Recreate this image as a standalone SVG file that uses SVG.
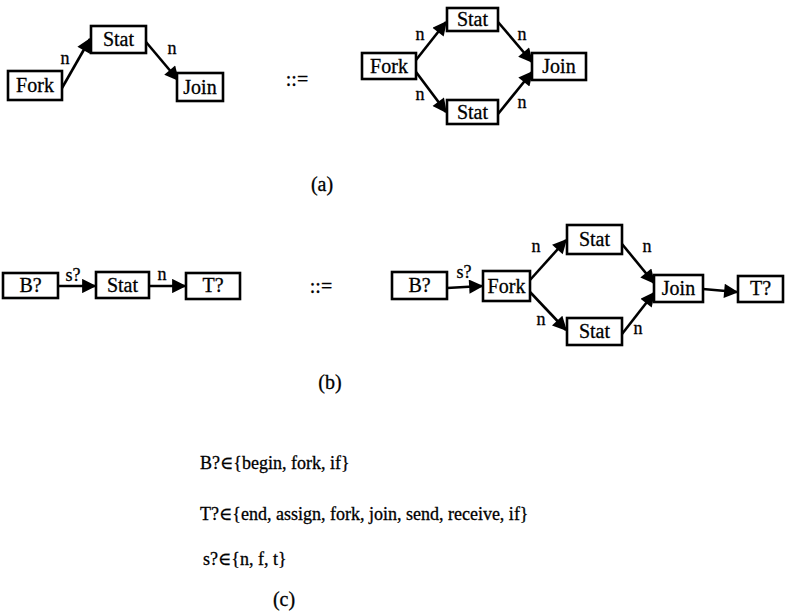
<svg xmlns="http://www.w3.org/2000/svg" width="787" height="612" viewBox="0 0 787 612">
<style>
.box{fill:#fff;stroke:#000;stroke-width:2.6}
text{font-family:'Liberation Serif','Tinos','DejaVu Serif',serif;fill:#000;stroke:#000;stroke-width:0.3}
.lbl{font-size:20px;text-anchor:middle}
.el{font-size:18px;text-anchor:middle}
.tx{font-size:18px}
.cap{font-size:20px;text-anchor:middle}
.e{stroke:#000;stroke-width:2.6;fill:none;marker-end:url(#ah)}
</style>
<defs>
<marker id="ah" viewBox="0 0 10 10" refX="9" refY="5" markerWidth="6" markerHeight="5.5" orient="auto" markerUnits="strokeWidth">
<path d="M0,0 L10,5 L0,10 z" fill="#000"/>
</marker>
</defs>
<rect width="787" height="612" fill="#fff"/>

<g id="connectors">
<line class="e" x1="62" y1="88" x2="90" y2="39"/>
<line class="e" x1="146" y1="42" x2="178" y2="80"/>
<line class="e" x1="416" y1="60" x2="446" y2="22"/>
<line class="e" x1="416" y1="72" x2="446" y2="112"/>
<line class="e" x1="498" y1="22" x2="532" y2="62"/>
<line class="e" x1="498" y1="114" x2="532" y2="72"/>
<line class="e" x1="58" y1="286" x2="95" y2="286"/>
<line class="e" x1="149" y1="286" x2="185" y2="286"/>
<line class="e" x1="447" y1="288" x2="482" y2="286"/>
<line class="e" x1="530" y1="280" x2="566" y2="240"/>
<line class="e" x1="530" y1="292" x2="566" y2="330"/>
<line class="e" x1="622" y1="244" x2="654" y2="283"/>
<line class="e" x1="622" y1="334" x2="654" y2="293"/>
<line class="e" x1="703" y1="289" x2="737" y2="292"/>
<g id="edge-labels">
<text class="el" x="65" y="64">n</text>
<text class="el" x="172" y="54">n</text>
<text class="el" x="420" y="40">n</text>
<text class="el" x="522" y="40">n</text>
<text class="el" x="420" y="100">n</text>
<text class="el" x="522" y="108">n</text>
<text class="el" x="73" y="281">s?</text>
<text class="el" x="162" y="280">n</text>
<text class="el" x="464" y="278">s?</text>
<text class="el" x="536" y="252">n</text>
<text class="el" x="541" y="325">n</text>
<text class="el" x="647" y="252">n</text>
<text class="el" x="638" y="334">n</text>
</g>
</g>

<g id="a-fork"><rect class="box" x="8" y="71" width="54" height="29"/><text class="lbl" x="35" y="92">Fork</text></g>
<g id="a-stat"><rect class="box" x="91" y="26" width="55" height="27"/><text class="lbl" x="118.500" y="46">Stat</text></g>
<g id="a-join"><rect class="box" x="177" y="73" width="46" height="28"/><text class="lbl" x="200" y="94">Join</text></g>

<text class="cap" x="297" y="86">::=</text>

<g id="ar-fork"><rect class="box" x="362" y="53" width="54" height="26"/><text class="lbl" x="389" y="73">Fork</text></g>
<g id="ar-stat1"><rect class="box" x="447" y="8" width="51" height="23"/><text class="lbl" x="472.500" y="26">Stat</text></g>
<g id="ar-stat2"><rect class="box" x="447" y="100" width="51" height="24"/><text class="lbl" x="472.500" y="119">Stat</text></g>
<g id="ar-join"><rect class="box" x="532" y="53" width="54" height="27"/><text class="lbl" x="559" y="73">Join</text></g>

<text class="cap" x="322" y="191">(a)</text>

<g id="b-b"><rect class="box" x="3" y="273" width="55" height="25"/><text class="lbl" x="30.500" y="292">B?</text></g>
<g id="b-stat"><rect class="box" x="96" y="272" width="53" height="26"/><text class="lbl" x="122.500" y="292">Stat</text></g>
<g id="b-t"><rect class="box" x="186" y="273" width="54" height="26"/><text class="lbl" x="213" y="292">T?</text></g>

<text class="cap" x="321" y="293">::=</text>

<g id="br-b"><rect class="box" x="392" y="272" width="55" height="27"/><text class="lbl" x="419.500" y="292">B?</text></g>
<g id="br-fork"><rect class="box" x="483" y="271" width="47" height="30"/><text class="lbl" x="506.500" y="293">Fork</text></g>
<g id="br-stat1"><rect class="box" x="567" y="225" width="55" height="29"/><text class="lbl" x="594.500" y="246">Stat</text></g>
<g id="br-stat2"><rect class="box" x="567" y="318" width="55" height="27"/><text class="lbl" x="594.500" y="338">Stat</text></g>
<g id="br-join"><rect class="box" x="654" y="275" width="49" height="27"/><text class="lbl" x="678.500" y="295">Join</text></g>
<g id="br-t"><rect class="box" x="738" y="276" width="45" height="26"/><text class="lbl" x="760.500" y="295">T?</text></g>

<text class="cap" x="330" y="389">(b)</text>

<text class="tx" x="200" y="469">B?∈{begin, fork, if}</text>
<text class="tx" x="200" y="520">T?∈{end, assign, fork, join, send, receive, if}</text>
<text class="tx" x="203" y="565">s?∈{n, f, t}</text>
<text class="cap" x="284" y="606">(c)</text>
</svg>
